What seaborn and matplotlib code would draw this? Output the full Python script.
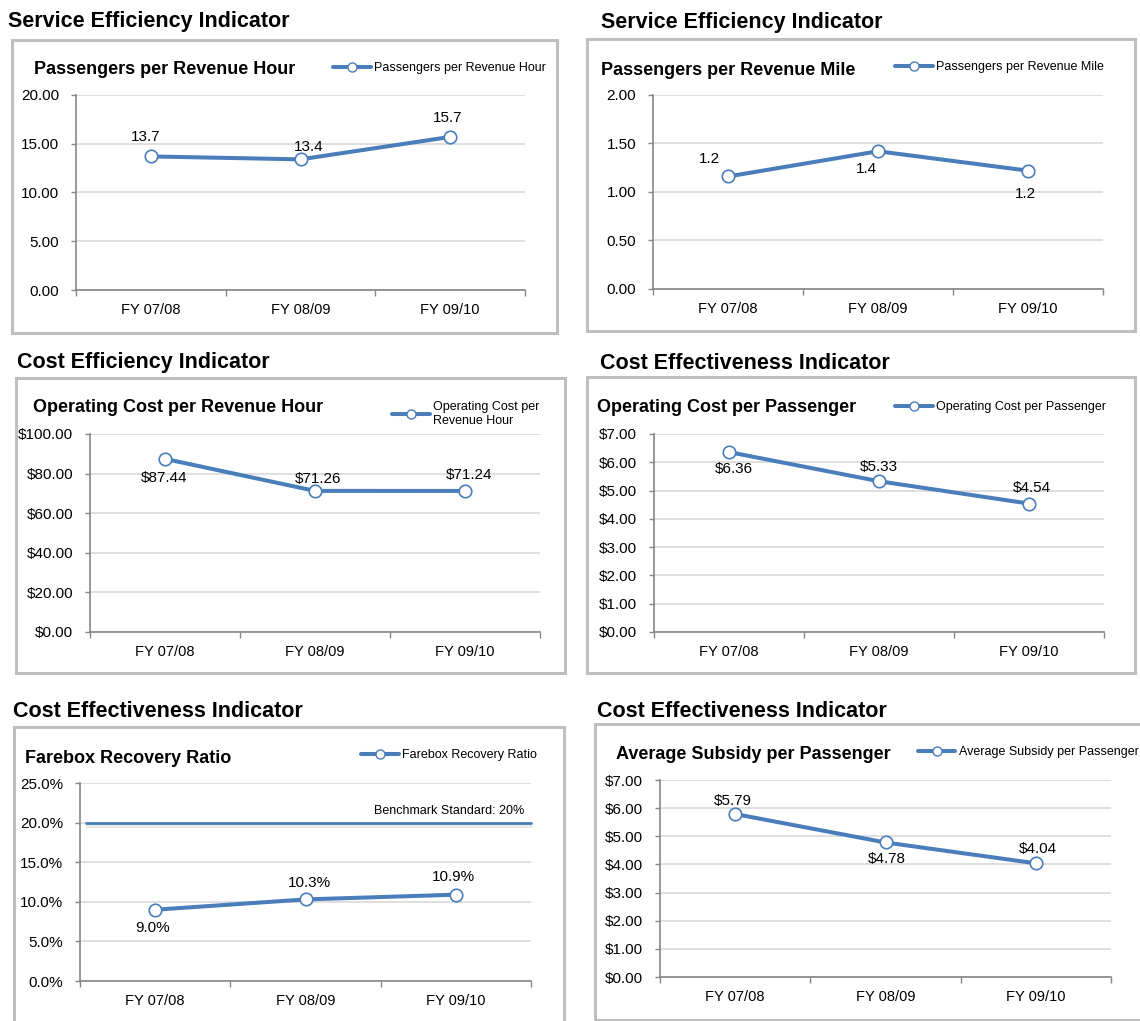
import matplotlib
matplotlib.use("Agg")
import matplotlib.pyplot as plt
import matplotlib.patheffects as pe
from matplotlib.patches import Rectangle
import seaborn as sns
import pandas as pd

# ---- data -------------------------------------------------------------
years = ["FY 07/08", "FY 08/09", "FY 09/10"]

pass_per_rev_hour = [13.7, 13.4, 15.7]
pass_per_rev_mile = [1.16, 1.42, 1.22]
cost_per_rev_hour = [87.44, 71.26, 71.24]
cost_per_passenger = [6.36, 5.33, 4.54]
farebox_recovery = [9.0, 10.3, 10.9]
subsidy_per_passenger = [5.79, 4.78, 4.04]
farebox_benchmark = 20.0

# ---- style ------------------------------------------------------------
sns.set_theme(style="white")
plt.rcParams["font.family"] = ["Liberation Sans", "DejaVu Sans"]
for key in ("text.color", "axes.labelcolor", "xtick.color", "ytick.color"):
    plt.rcParams[key] = "black"

BLUE = "#4A7EBB"
GRID = "#D9D9D9"
AXIS = "#868686"
FRAME = "#BFBFBF"

W, H = 1140, 1021
fig = plt.figure(figsize=(W / 100, H / 100), dpi=100)
fig.patch.set_facecolor("white")


def fx(px):
    return px / W


def fy(py):
    return 1 - py / H


def num2(v):
    return f"{v:.2f}"


def num1(v):
    return f"{v:.1f}"


def dollars(v):
    return f"${v:.2f}"


def pct(v):
    return f"{v:.1f}%"


panels = [
    dict(header="Service Efficiency Indicator", header_xy=(8, 27),
         title="Passengers per Revenue Hour", title_xy=(34, 74),
         legend="Passengers per Revenue Hour", legend_xy=(333, 68),
         values=pass_per_rev_hour, ymax=20, step=5, tickfmt=num2, labfmt=num1,
         box=(12, 40, 557, 333), axes=(76, 95, 525, 290),
         offsets=[(-5, -19), (8, -12), (-3, -19)]),
    dict(header="Service Efficiency Indicator", header_xy=(601, 28),
         title="Passengers per Revenue Mile", title_xy=(601, 75),
         legend="Passengers per Revenue Mile", legend_xy=(895, 67),
         values=pass_per_rev_mile, ymax=2, step=0.5, tickfmt=num2, labfmt=num1,
         box=(587, 39, 1135, 331), axes=(653, 95, 1103, 289),
         offsets=[(-19, -17), (-12, 18), (-3, 23)]),
    dict(header="Cost Efficiency Indicator", header_xy=(17, 368),
         title="Operating Cost per Revenue Hour", title_xy=(33, 412),
         legend="Operating Cost per\nRevenue Hour", legend_xy=(392, 414),
         values=cost_per_rev_hour, ymax=100, step=20, tickfmt=dollars, labfmt=dollars,
         box=(16, 378, 565, 673), axes=(90, 434, 540, 632),
         offsets=[(-1, 19), (3, -12), (4, -16)]),
    dict(header="Cost Effectiveness Indicator", header_xy=(600, 369),
         title="Operating Cost per Passenger", title_xy=(597, 412),
         legend="Operating Cost per Passenger", legend_xy=(895, 407),
         values=cost_per_passenger, ymax=7, step=1, tickfmt=dollars, labfmt=dollars,
         box=(587, 377, 1135, 673), axes=(654, 434, 1104, 632),
         offsets=[(5, 17), (0, -14), (3, -16)]),
    dict(header="Cost Effectiveness Indicator", header_xy=(13, 717),
         title="Farebox Recovery Ratio", title_xy=(25, 763),
         legend="Farebox Recovery Ratio", legend_xy=(361, 755),
         values=farebox_recovery, ymax=25, step=5, tickfmt=pct, labfmt=pct,
         box=(14, 727, 564, 1030), axes=(80, 783, 531, 981),
         offsets=[(-3, 18), (4, -16), (-2, -18)]),
    dict(header="Cost Effectiveness Indicator", header_xy=(597, 717),
         title="Average Subsidy per Passenger", title_xy=(616, 759),
         legend="Average Subsidy per Passenger", legend_xy=(918, 752),
         values=subsidy_per_passenger, ymax=7, step=1, tickfmt=dollars, labfmt=dollars,
         box=(595, 724, 1150, 1020), axes=(660, 780, 1111, 977),
         offsets=[(-2, -13), (1, 17), (2, -14)]),
]

for p in panels:
    # panel frame
    bx0, by0, bx1, by1 = p["box"]
    fig.patches.append(Rectangle((fx(bx0), fy(by1)), (bx1 - bx0) / W, (by1 - by0) / H,
                                 transform=fig.transFigure, fill=False,
                                 edgecolor=FRAME, linewidth=2.2, zorder=0))
    # section header and chart title
    fig.text(fx(p["header_xy"][0]), fy(p["header_xy"][1]), p["header"],
             fontsize=15.5, fontweight="bold", ha="left", va="baseline",
             color="black")
    fig.text(fx(p["title_xy"][0]), fy(p["title_xy"][1]), p["title"],
             fontsize=13, fontweight="bold", ha="left", va="baseline",
             color="black")

    ax0, ay0, ax1, ay1 = p["axes"]
    ax = fig.add_axes([fx(ax0), fy(ay1), (ax1 - ax0) / W, (ay1 - ay0) / H])
    ax.set_facecolor("none")

    df = pd.DataFrame({"year": years, "value": p["values"]})
    sns.lineplot(data=df, x="year", y="value", ax=ax, sort=False,
                 color=BLUE, linewidth=2.9, marker="o", markersize=9,
                 markerfacecolor="white", markeredgecolor=BLUE,
                 markeredgewidth=1.2, label=p["legend"], zorder=5, clip_on=False)

    # value labels
    for xi, (v, (dx, dy)) in enumerate(zip(p["values"], p["offsets"])):
        ax.annotate(p["labfmt"](v), xy=(xi, v), xytext=(dx, -dy),
                    textcoords="offset pixels", ha="center", va="center",
                    fontsize=11, color="black", zorder=6)

    # axes styling
    ax.set_xlim(-0.5, len(years) - 0.5)
    ax.set_ylim(0, p["ymax"])
    nsteps = int(round(p["ymax"] / p["step"]))
    yt = [k * p["step"] for k in range(nsteps + 1)]
    ax.set_yticks(yt)
    ax.set_yticklabels([p["tickfmt"](t) for t in yt])
    ax.set_xticks(range(len(years)))
    ax.set_xticklabels(years)
    ax.set_xticks([k - 0.5 for k in range(len(years) + 1)], minor=True)
    ax.set_xlabel("")
    ax.set_ylabel("")
    ax.yaxis.grid(True, color=GRID, linewidth=1.2)
    ax.xaxis.grid(False)
    ax.set_axisbelow(True)
    for side in ("top", "right"):
        ax.spines[side].set_visible(False)
    for side in ("left", "bottom"):
        ax.spines[side].set_color(AXIS)
        ax.spines[side].set_linewidth(1.2)
    ax.tick_params(axis="y", which="major", direction="out", length=3.5, width=1,
                   color=AXIS, pad=8.5, labelsize=11, left=True, labelcolor="black")
    ax.tick_params(axis="x", which="major", length=0, pad=9.5, labelsize=10.5,
                   bottom=True, labelcolor="black")
    ax.tick_params(axis="x", which="minor", direction="out", length=4, width=1,
                   color=AXIS, bottom=True)

    # benchmark line on the farebox chart
    if p["values"] is farebox_recovery:
        ax.axhline(farebox_benchmark, xmin=0.013, xmax=1.0, color=BLUE,
                   linewidth=2.0, zorder=4, clip_on=False,
                   path_effects=[pe.SimpleLineShadow(offset=(0, -2.5),
                                                     shadow_color="#9A9A9A",
                                                     alpha=0.22),
                                 pe.Normal()])
        ax.annotate(f"Benchmark Standard: {farebox_benchmark:.0f}%",
                    xy=(1.0, farebox_benchmark), xycoords=ax.get_yaxis_transform(),
                    xytext=(-7, 9), textcoords="offset pixels",
                    ha="right", va="baseline", fontsize=9, color="black")

    # legend
    lx, ly = p["legend_xy"]
    leg = ax.legend(loc="center left", bbox_to_anchor=(fx(lx), fy(ly)),
                    bbox_transform=fig.transFigure, frameon=False,
                    fontsize=9, handlelength=3.0, handletextpad=0.3,
                    borderpad=0, borderaxespad=0, labelspacing=0.1)
    for handle in leg.legend_handles:
        handle.set_markersize(6.5)
        handle.set_markeredgewidth(1.0)
    for t in leg.get_texts():
        t.set_color("black")

fig.savefig("out.png", dpi=100, facecolor="white")
